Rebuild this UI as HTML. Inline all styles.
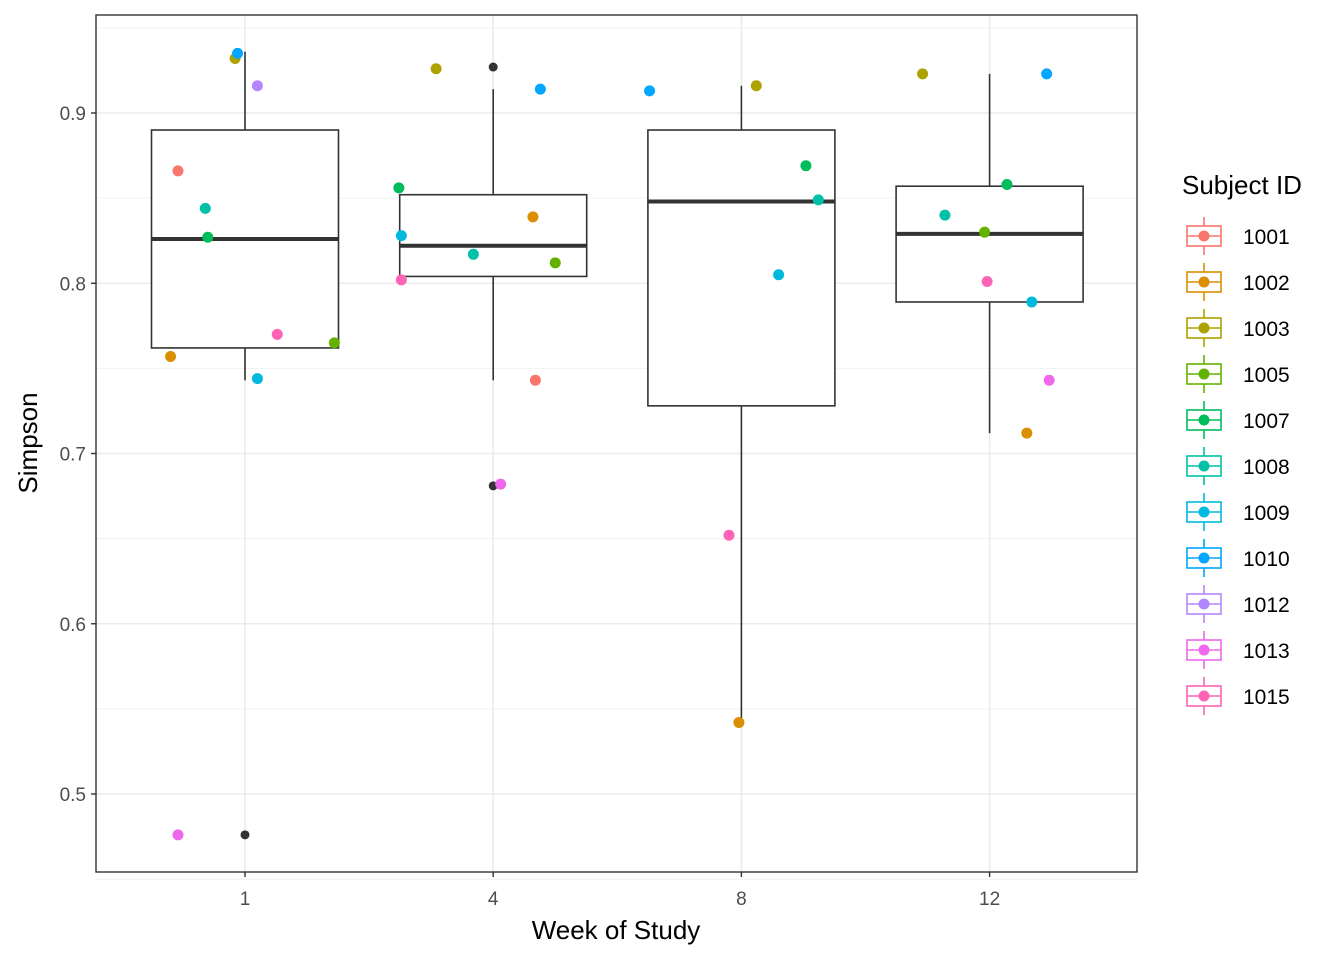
<!DOCTYPE html>
<html><head><meta charset="utf-8"><style>body{margin:0;background:#fff}svg{display:block;font-family:"Liberation Sans",Arial,sans-serif}</style></head>
<body>
<svg id="chart" width="1344" height="960" xmlns="http://www.w3.org/2000/svg"></svg>
<script>
const weeks=["1","4","8","12"];
const yTicks=[0.5,0.6,0.7,0.8,0.9];
const subjects=["1001","1002","1003","1005","1007","1008","1009","1010","1012","1013","1015"];
const colors=["#F8766D","#DB8E00","#AEA200","#64B200","#00BD5C","#00C1A7","#00BADE","#00A6FF","#B385FF","#EF67EB","#FF63B6"];
// box stats per week: [low whisker, q1, median, q3, high whisker]
const boxLow=[0.743,0.743,0.542,0.712];
const boxQ1=[0.762,0.804,0.728,0.789];
const boxMed=[0.826,0.822,0.848,0.829];
const boxQ3=[0.890,0.852,0.890,0.857];
const boxHigh=[0.936,0.914,0.916,0.923];
const outlierWeek=[0,1,1];
const outlierVal=[0.476,0.927,0.681];
// jittered points: week index, subject, value, jitter (category units)
const ptWeek=[0,0,0,0,0,0,0,0,0,0,0, 1,1,1,1,1,1,1,1,1,1, 2,2,2,2,2,2,2, 3,3,3,3,3,3,3,3,3];
const ptSubj=["1001","1002","1003","1005","1007","1008","1009","1010","1012","1013","1015",
 "1001","1002","1003","1005","1007","1008","1009","1010","1013","1015",
 "1002","1003","1007","1008","1009","1010","1015",
 "1003","1002","1005","1007","1008","1009","1010","1013","1015"];
const ptVal=[0.866,0.757,0.932,0.765,0.827,0.844,0.744,0.935,0.916,0.476,0.770,
 0.743,0.839,0.926,0.812,0.856,0.817,0.828,0.914,0.682,0.802,
 0.542,0.916,0.869,0.849,0.805,0.913,0.652,
 0.923,0.712,0.830,0.858,0.840,0.789,0.923,0.743,0.801];
const ptJit=[-0.27,-0.30,-0.04,0.36,-0.15,-0.16,0.05,-0.03,0.05,-0.27,0.13,
 0.17,0.16,-0.23,0.25,-0.38,-0.08,-0.37,0.19,0.03,-0.37,
 -0.01,0.06,0.26,0.31,0.15,-0.37,-0.05,
 -0.27,0.15,-0.02,0.07,-0.18,0.17,0.23,0.24,-0.01];

const svg=document.getElementById('chart');const NS="http://www.w3.org/2000/svg";
const L=96,R=1137,T=15,B=872;
const y=v=>794-(v-0.5)*1702.5;
const x=i=>245+i*248.2;
const bw=93.5;
function el(tag,attrs,parent){const e=document.createElementNS(NS,tag);for(const k in attrs)e.setAttribute(k,attrs[k]);(parent||svg).appendChild(e);return e;}
const grid=el('g',{});


for(let v=0.45;v<=0.951;v+=0.1){el('line',{x1:L,x2:R,y1:y(v),y2:y(v),stroke:'#f0f0f0','stroke-width':1},grid);}
yTicks.forEach(v=>el('line',{x1:L,x2:R,y1:y(v),y2:y(v),stroke:'#ebebeb','stroke-width':1.6},grid));
weeks.forEach((w,i)=>el('line',{x1:x(i),x2:x(i),y1:T,y2:B,stroke:'#ebebeb','stroke-width':1.6},grid));
// boxes
weeks.forEach((w,i)=>{
 const g=el('g',{});
 
 
 el('line',{x1:x(i),x2:x(i),y1:y(boxHigh[i]),y2:y(boxQ3[i]),stroke:'#333','stroke-width':1.6},g);
 el('line',{x1:x(i),x2:x(i),y1:y(boxQ1[i]),y2:y(boxLow[i]),stroke:'#333','stroke-width':1.6},g);
 el('rect',{x:x(i)-bw,y:y(boxQ3[i]),width:2*bw,height:y(boxQ1[i])-y(boxQ3[i]),fill:'#fff',stroke:'#333','stroke-width':1.6},g);
 el('line',{x1:x(i)-bw,x2:x(i)+bw,y1:y(boxMed[i]),y2:y(boxMed[i]),stroke:'#333','stroke-width':4},g);
});
outlierWeek.forEach((w,k)=>{const c=el('circle',{cx:x(w),cy:y(outlierVal[k]),r:4.5,fill:'#333'});
 
 });
ptVal.forEach((v,k)=>{const c=el('circle',{cx:x(ptWeek[k]+ptJit[k]),cy:y(v),r:5.5,fill:colors[subjects.indexOf(ptSubj[k])]});
 
 });
el('rect',{x:L,y:T,width:R-L,height:B-T,fill:'none',stroke:'#333','stroke-width':1.4});
// axes ticks
yTicks.forEach(v=>{el('line',{x1:L-5,x2:L,y1:y(v),y2:y(v),stroke:'#333','stroke-width':1.4});
 const t=el('text',{x:L-10,y:y(v)+7,'text-anchor':'end','font-size':19,fill:'#4d4d4d'});t.textContent=v.toFixed(1);
 
 });
weeks.forEach((w,i)=>{el('line',{x1:x(i),x2:x(i),y1:B,y2:B+5,stroke:'#333','stroke-width':1.4});
 const t=el('text',{x:x(i),y:B+33,'text-anchor':'middle','font-size':19,fill:'#4d4d4d'});t.textContent=w;
 
 });
let t=el('text',{x:616,y:939,'text-anchor':'middle','font-size':26,fill:'#000'});t.textContent='Week of Study';


t=el('text',{x:0,y:0,'text-anchor':'middle','font-size':26,fill:'#000',transform:'translate(37,443) rotate(-90)'});t.textContent='Simpson';


// legend
t=el('text',{x:1182,y:194,'font-size':26,fill:'#000'});t.textContent='Subject ID';


subjects.forEach((s,i)=>{const cy=236+i*46;const g=el('g',{});
 
 
 el('line',{x1:1204,x2:1204,y1:cy-19,y2:cy+19,stroke:colors[i],'stroke-width':1.6},g);
 el('rect',{x:1187,y:cy-10,width:34,height:20,fill:'#fff',stroke:colors[i],'stroke-width':1.6},g);
 el('line',{x1:1187,x2:1221,y1:cy,y2:cy,stroke:colors[i],'stroke-width':1.6},g);
 el('circle',{cx:1204,cy:cy,r:5.5,fill:colors[i]},g);
 const tt=el('text',{x:1243,y:cy+8,'font-size':21,fill:'#000'},g);tt.textContent=s;});
</script>
</body></html>
